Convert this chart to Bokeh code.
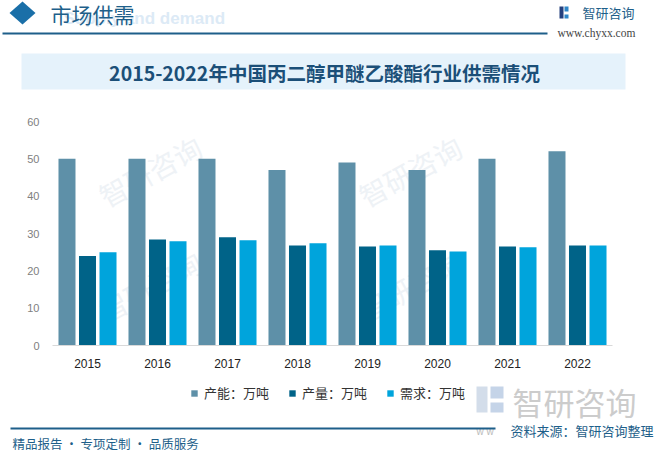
from bokeh.plotting import figure
from bokeh.layouts import column
from bokeh.models import (FactorRange, Range1d, FixedTicker, Label, Legend, LegendItem,
                          ColumnDataSource)
from bokeh.core.properties import value
from bokeh.transform import dodge
from bokeh.embed import file_html
from bokeh.resources import INLINE

# ---------------- data ----------------
years = ["2015", "2016", "2017", "2018", "2019", "2020", "2021", "2022"]
capacity = [50, 50, 50, 47, 49, 47, 50, 52]
output = [24, 28.4, 29, 26.8, 26.5, 25.5, 26.5, 26.8]
demand = [25, 27.9, 28.2, 27.4, 26.8, 25.2, 26.3, 26.8]
series_names = ["产能：万吨", "产量：万吨", "需求：万吨"]
series_colors = ["#5E90A8", "#006388", "#00A4DC"]
y_ticks = [0, 10, 20, 30, 40, 50, 60]
title_text = "2015-2022年中国丙二醇甲醚乙酸酯行业供需情况"

CJK = "Noto Sans CJK SC"
DARK = "#1E5F8A"
WIDTH = 660


def deco_fig(y0, y1):
    f = figure(width=WIDTH, height=y1 - y0, x_range=Range1d(0, WIDTH),
               y_range=Range1d(y1, y0), x_axis_type=None, y_axis_type=None,
               output_backend="svg", toolbar_location=None, title=None,
               min_border=0, frame_align=False)
    f.outline_line_color = None
    f.background_fill_color = "white"
    f.border_fill_color = "white"
    return f


def txt(f, x, y, s, size, color, align="left", font=CJK, style="normal"):
    f.text(x=[x], y=[y], text=[s], text_font=value(font), text_font_size=value(f"{size}px"),
           text_color=color, text_align=align, text_baseline="middle",
           text_font_style=style)


def rect(f, x1, y1, x2, y2, color):
    f.quad(left=[x1], right=[x2], top=[y1], bottom=[y2], fill_color=color, line_color=None)


# ---------------- top: header & title ----------------
top = deco_fig(0, 113)
top.patch(x=[9, 22, 35, 22], y=[12.5, 1, 12.5, 24], fill_color="#1A6FA8", line_color=None)
txt(top, 63, 18, "Supply and demand", 17, "#DCEAF6", font="Liberation Sans", style="bold")
txt(top, 50, 13, "市场供需", 21, DARK)
rect(top, 2, 32, 547, 34, DARK)
rect(top, 559, 6, 563, 18, "#24407E")
rect(top, 564, 6, 568, 11, "#2E86C8")
rect(top, 564, 14, 568, 18, "#2E86C8")
txt(top, 582, 12, "智研咨询", 13, DARK)
txt(top, 557, 32, "www.chyxx.com", 11.5, "#444444", font="Liberation Serif")
rect(top, 21, 53, 625, 89, "#E5F2FB")
txt(top, 324, 72, title_text, 19.5, "#1B4F78", align="center", style="bold")

# ---------------- chart ----------------
p = figure(x_range=FactorRange(*years), y_range=Range1d(0, 60),
           width=WIDTH, height=262, output_backend="svg", toolbar_location=None,
           title=None, min_border_left=52, min_border_right=48, min_border_top=8,
           min_border_bottom=30, frame_align=False)
p.outline_line_color = None
p.background_fill_color = "white"
p.border_fill_color = "white"
p.xgrid.grid_line_color = None
p.ygrid.grid_line_color = None

# faint watermarks behind bars (screen units relative to the frame)
for (x, y) in [(58, 130), (318, 130), (58, 15), (318, 15)]:
    p.add_layout(Label(x=x, y=y, x_units="screen", y_units="screen", text="智研咨询",
                       text_font=CJK, text_font_size="28px", text_color="#EEF2F6",
                       angle=0.5, level="underlay"))

src = ColumnDataSource(dict(years=years, capacity=capacity, output=output, demand=demand))
W = 0.243
OFF = 0.293
p.vbar(x=dodge("years", -OFF, range=p.x_range), top="capacity", width=W,
       source=src, fill_color=series_colors[0], line_color=None)
p.vbar(x=dodge("years", 0, range=p.x_range), top="output", width=W,
       source=src, fill_color=series_colors[1], line_color=None)
p.vbar(x=dodge("years", OFF, range=p.x_range), top="demand", width=W,
       source=src, fill_color=series_colors[2], line_color=None)

p.yaxis.ticker = FixedTicker(ticks=y_ticks)
p.yaxis.axis_line_color = None
p.yaxis.major_tick_line_color = None
p.yaxis.minor_tick_line_color = None
p.yaxis.major_label_text_color = "#808080"
p.yaxis.major_label_text_font = "Liberation Sans"
p.yaxis.major_label_text_font_size = "11px"
p.yaxis.major_label_standoff = 7

p.xaxis.axis_line_color = "#D9D9D9"
p.xaxis.axis_line_width = 1
p.xaxis.major_tick_line_color = None
p.xaxis.minor_tick_line_color = None
p.xaxis.major_label_text_color = "#222222"
p.xaxis.major_label_text_font = "Liberation Sans"
p.xaxis.major_label_text_font_size = "12px"
p.xaxis.major_label_standoff = 7

# ---------------- bottom: legend & footer ----------------
B0 = 375
bot = deco_fig(B0, 454)
# zero-size carriers for the legend swatches (series colours)
leg_r = [bot.vbar(x=[0], top=[B0], bottom=[B0], width=0, fill_color=c, line_color=None)
         for c in series_colors]
legend = Legend(items=[LegendItem(label=n, renderers=[r]) for n, r in zip(series_names, leg_r)],
                orientation="horizontal", location=(190, 52), margin=0, padding=0,
                glyph_width=8, glyph_height=8, label_standoff=6, spacing=19,
                label_height=14, label_text_font=CJK, label_text_font_size="13px",
                label_text_color="#333333", border_line_color=None,
                background_fill_alpha=0)
bot.add_layout(legend)

rect(bot, 476, 386, 487, 412, "#D3DDEA")
rect(bot, 490, 386, 503, 398, "#C5D4E8")
rect(bot, 490, 402, 503, 412, "#C5D4E8")
txt(bot, 512, 401, "智研咨询", 31, "#CCCCCC")
txt(bot, 476, 431, "w w", 10, "#BBBBBB", font="Liberation Sans")
rect(bot, 10, 427, 495, 429, DARK)
txt(bot, 12, 443, "精品报告 · 专项定制 · 品质服务", 12.5, DARK)
txt(bot, 653, 430, "资料来源：智研咨询整理", 13, DARK, align="right")

layout = column(top, p, bot, spacing=0)
html = file_html(layout, INLINE)
open("out.html", "w").write(html)
